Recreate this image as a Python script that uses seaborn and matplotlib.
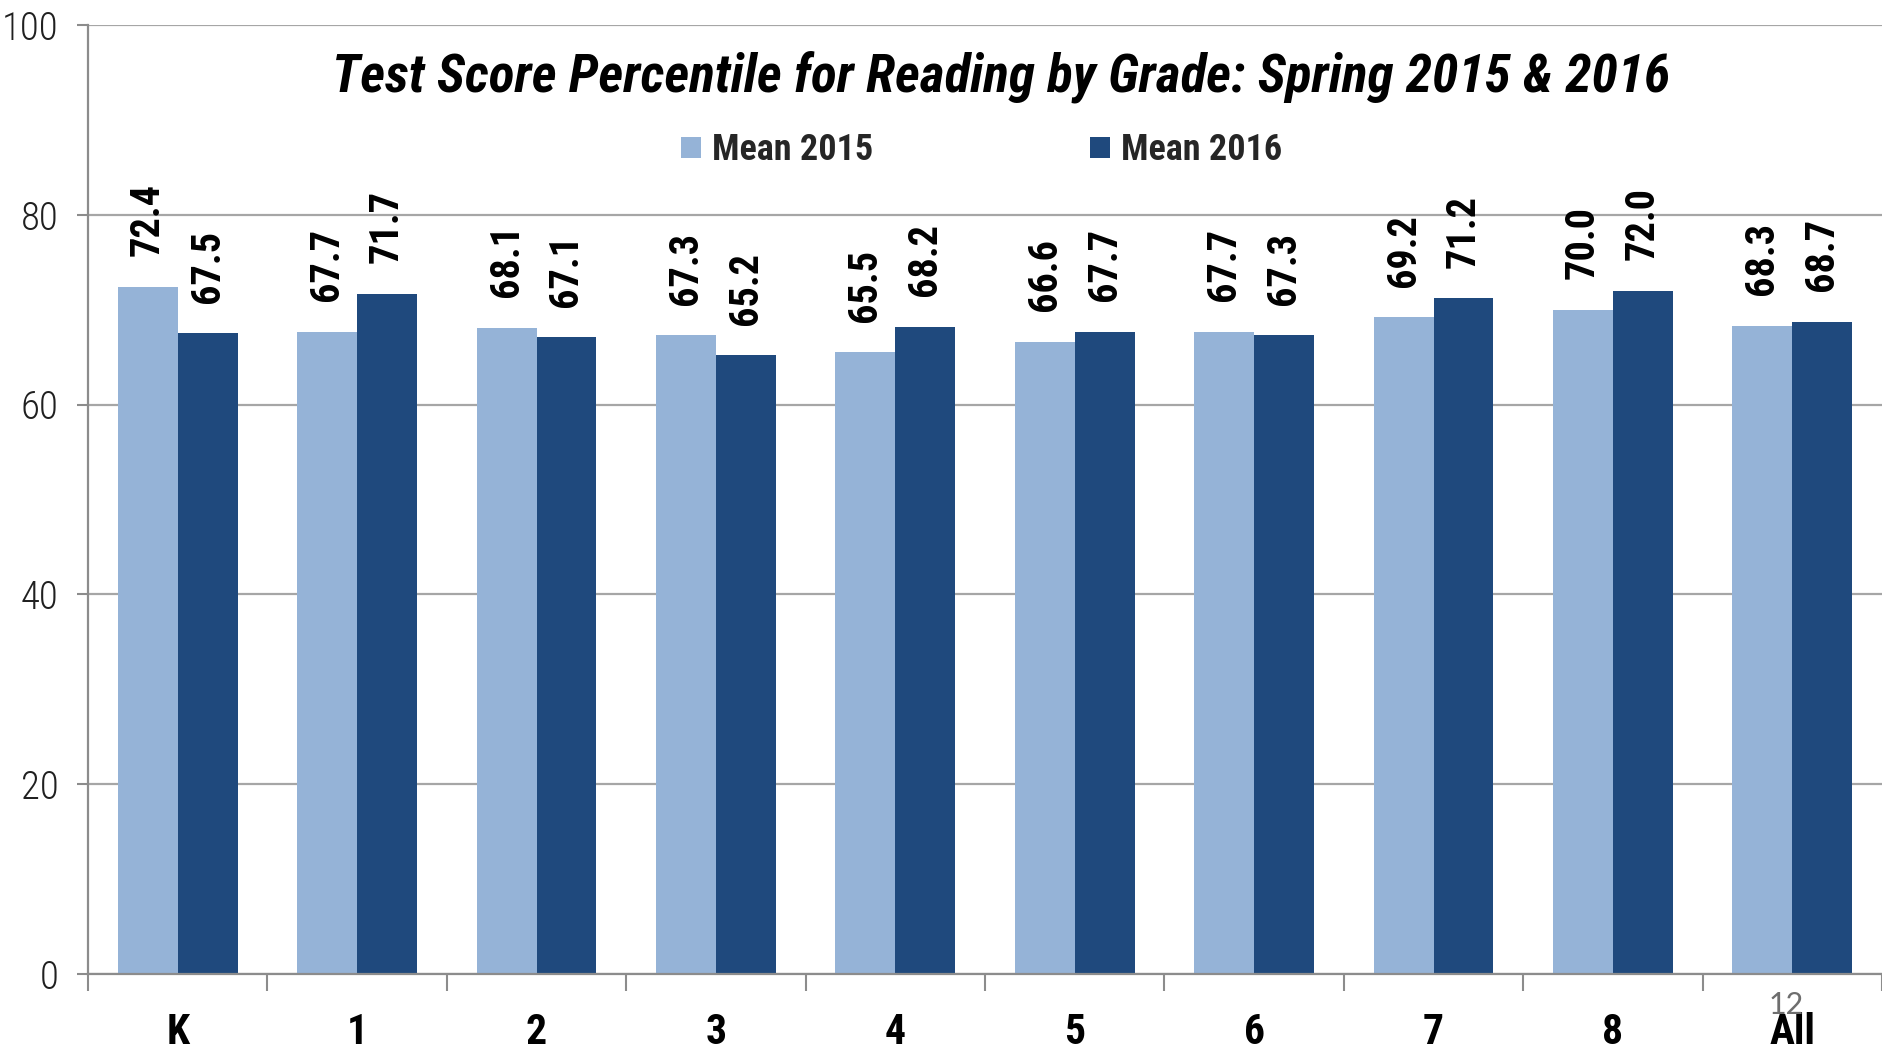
import matplotlib
matplotlib.use("Agg")
import matplotlib.pyplot as plt
import seaborn as sns
import pandas as pd
import numpy as np

grades = ["K", "1", "2", "3", "4", "5", "6", "7", "8", "All"]
mean_2015 = [72.4, 67.7, 68.1, 67.3, 65.5, 66.6, 67.7, 69.2, 70.0, 68.3]
mean_2016 = [67.5, 71.7, 67.1, 65.2, 68.2, 67.7, 67.3, 71.2, 72.0, 68.7]
series_names = ["Mean 2015", "Mean 2016"]
colors = ["#95B3D7", "#1F497D"]
title = "Test Score Percentile for Reading by Grade: Spring 2015 & 2016"
yticks = [0, 20, 40, 60, 80, 100]

df = pd.DataFrame({
    "grade": grades * 2,
    "value": mean_2015 + mean_2016,
    "series": [series_names[0]] * len(grades) + [series_names[1]] * len(grades),
})

sns.set_style("white")
narrow = ["Roboto Condensed", "Liberation Sans", "DejaVu Sans"]
plt.rcParams["font.family"] = narrow

fig = plt.figure(figsize=(18.82, 10.54), dpi=100)
ax = fig.add_axes([88 / 1882, 1 - 974 / 1054, 1 - 88 / 1882, (974 - 25) / 1054])

sns.barplot(data=df, x="grade", y="value", hue="series", order=grades,
            hue_order=series_names, palette=colors, width=0.667, gap=0,
            saturation=1, ax=ax, edgecolor="none", linewidth=0)

for cont in ax.containers:
    ax.bar_label(cont, fmt="%.1f", rotation=90, padding=22, fontsize=29,
                 fontweight="bold", color="black")

ax.set_xlim(-0.5, len(grades) - 0.5)
ax.set_ylim(0, 100)
ax.set_yticks(yticks)
ax.set_yticklabels([str(v) for v in yticks], fontsize=28, color="#202020",
                   fontweight="light")
ax.tick_params(axis="y", length=8, width=1.5, color="#8C8C8C", pad=13, left=True)

ax.set_xticks(range(len(grades)))
ax.set_xticklabels(grades, fontsize=30, fontweight="bold", color="black")
ax.tick_params(axis="x", which="major", length=0, pad=27)
ax.set_xticks(np.arange(-0.5, len(grades), 1.0), minor=True)
ax.tick_params(axis="x", which="minor", length=12, width=1.5, color="#8C8C8C",
               bottom=True, direction="out")

ax.yaxis.grid(True, color="#A6A6A6", linewidth=1.6)
ax.set_axisbelow(True)
ax.set_xlabel("")
ax.set_ylabel("")
for side in ["top", "right"]:
    ax.spines[side].set_visible(False)
for side in ["left", "bottom"]:
    ax.spines[side].set_color("#8C8C8C")
    ax.spines[side].set_linewidth(1.6)

ax.text(0.509, 0.945, title, transform=ax.transAxes, ha="center", va="center",
        fontsize=38.5, fontweight="bold", fontstyle="italic", color="black")

leg = ax.legend(loc="center", bbox_to_anchor=(0.498, 0.868), ncol=2, frameon=False,
                fontsize=26, handlelength=0.55, handleheight=0.55,
                handletextpad=0.3, columnspacing=6.0)
for t in leg.get_texts():
    t.set_fontweight("bold")

fig.text(1786 / 1882, 1 - 1005 / 1054, "12", ha="center", va="center",
         fontsize=22, color="#6E6E6E", family=["Lato", "DejaVu Sans"],
         fontweight="normal", zorder=10)

fig.savefig("out.png", dpi=100)
